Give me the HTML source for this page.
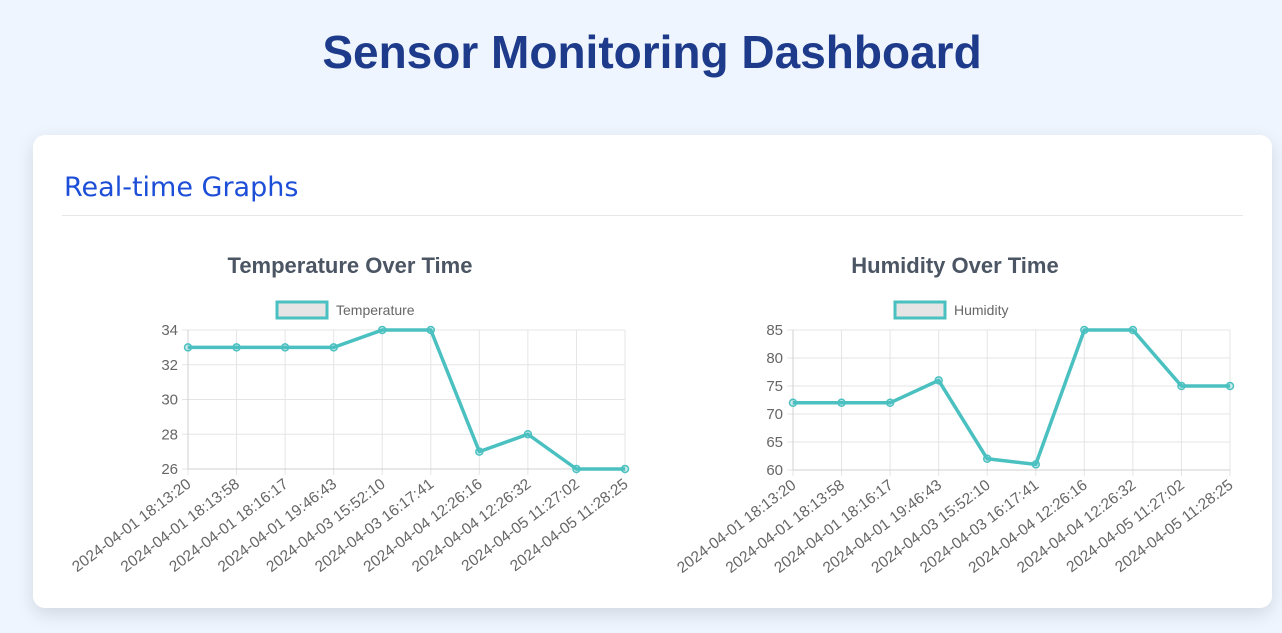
<!DOCTYPE html>
<html><head><meta charset="utf-8">
<style>
body{margin:0;width:1282px;height:633px;background:#eef5fe;font-family:"Liberation Sans",sans-serif;overflow:hidden;position:relative}
h1{position:absolute;top:25px;left:0;width:1304px;margin:0;text-align:center;font-size:46px;font-weight:bold;color:#1e3a8a;font-family:"Liberation Sans",sans-serif}
.card{position:absolute;left:33px;top:135px;width:1239px;height:473px;background:#fff;border-radius:12px;box-shadow:0 6px 18px rgba(0,0,0,0.12)}
h2{position:absolute;left:31px;top:37px;margin:0;font-size:27px;font-weight:normal;color:#1d4ed8;font-family:"DejaVu Sans",sans-serif}
.hr{position:absolute;left:29px;top:80px;width:1181px;height:1px;background:#e5e7eb}
svg{position:absolute;left:0;top:0}
</style></head><body>
<h1>Sensor Monitoring Dashboard</h1>
<div class="card">
<h2>Real-time Graphs</h2>
<div class="hr"></div>
</div>
<svg id="svg" width="1282" height="633"></svg>
<script>
const labels=["2024-04-01 18:13:20","2024-04-01 18:13:58","2024-04-01 18:16:17","2024-04-01 19:46:43","2024-04-03 15:52:10","2024-04-03 16:17:41","2024-04-04 12:26:16","2024-04-04 12:26:32","2024-04-05 11:27:02","2024-04-05 11:28:25"];
const tempValues=[33,33,33,33,34,34,27,28,26,26];
const humValues=[72,72,72,76,62,61,85,85,75,75];
const tempTicks=[26,28,30,32,34];
const humTicks=[60,65,70,75,80,85];
const NS="http://www.w3.org/2000/svg";
const svg=document.getElementById('svg');
function el(t,a,p){const e=document.createElementNS(NS,t);for(const k in a)e.setAttribute(k,a[k]);(p||svg).appendChild(e);return e;}
function chart(cfg){
 const g=el('g',{});
 
 
 const n=cfg.values.length,min=cfg.ticks[0],max=cfg.ticks[cfg.ticks.length-1];
 const xs=i=>cfg.x0+(cfg.x1-cfg.x0)*i/(n-1);
 const ys=v=>cfg.y1-(cfg.y1-cfg.y0)*(v-min)/(max-min);
 const t=el('text',{x:cfg.x0+162,y:273,'text-anchor':'middle','font-size':22,'font-weight':'bold',fill:'#4b5563','font-family':'Liberation Sans,sans-serif'},g);
 t.textContent=cfg.title;
 
 
 const lg=el('rect',{x:cfg.legX,y:302,width:50,height:16,fill:'#e5e5e5',stroke:'#4bc0c0','stroke-width':3},g);
 
 
 const lt=el('text',{x:cfg.legX+59,y:315,'font-size':14,fill:'#666'},g);
 lt.textContent=cfg.label;
 
 
 cfg.ticks.forEach(v=>{
  el('line',{x1:cfg.x0-6,x2:cfg.x1,y1:ys(v),y2:ys(v),stroke:'#e5e5e5'},g);
  const tx=el('text',{x:cfg.x0-10,y:ys(v)+5,'text-anchor':'end','font-size':15,fill:'#666'},g);
  tx.textContent=v;
  
  
 });
 labels.forEach((l,i)=>{
  el('line',{x1:xs(i),x2:xs(i),y1:cfg.y0,y2:cfg.y1+6,stroke:'#e5e5e5'},g);
  const ax=xs(i)+4,ay=cfg.y1+17;
  const tx=el('text',{x:ax,y:ay,'text-anchor':'end','font-size':15.5,fill:'#666',transform:`rotate(-37 ${ax} ${ay})`},g);
  tx.textContent=l;
  
  
 });
 el('line',{x1:cfg.x0,x2:cfg.x0,y1:cfg.y0,y2:cfg.y1,stroke:'#d0d0d0'},g);
 el('line',{x1:cfg.x0,x2:cfg.x1,y1:cfg.y1,y2:cfg.y1,stroke:'#d0d0d0'},g);
 const pts=cfg.values.map((v,i)=>xs(i)+','+ys(v)).join(' ');
 const pl=el('polyline',{points:pts,fill:'none',stroke:'#4bc0c0','stroke-width':3.5,'stroke-linejoin':'round'},g);
 
 
 cfg.values.forEach((v,i)=>{
  const c=el('circle',{cx:xs(i),cy:ys(v),r:3.5,fill:'rgba(75,192,192,0.3)',stroke:'#4bc0c0','stroke-width':1.5},g);
  
  
 });
}
chart({name:'temperature-chart',title:'Temperature Over Time',label:'Temperature',values:tempValues,ticks:tempTicks,x0:188,x1:625,y0:330,y1:469,legX:277});
chart({name:'humidity-chart',title:'Humidity Over Time',label:'Humidity',values:humValues,ticks:humTicks,x0:793,x1:1230,y0:330,y1:470,legX:895});
</script>
</body></html>
